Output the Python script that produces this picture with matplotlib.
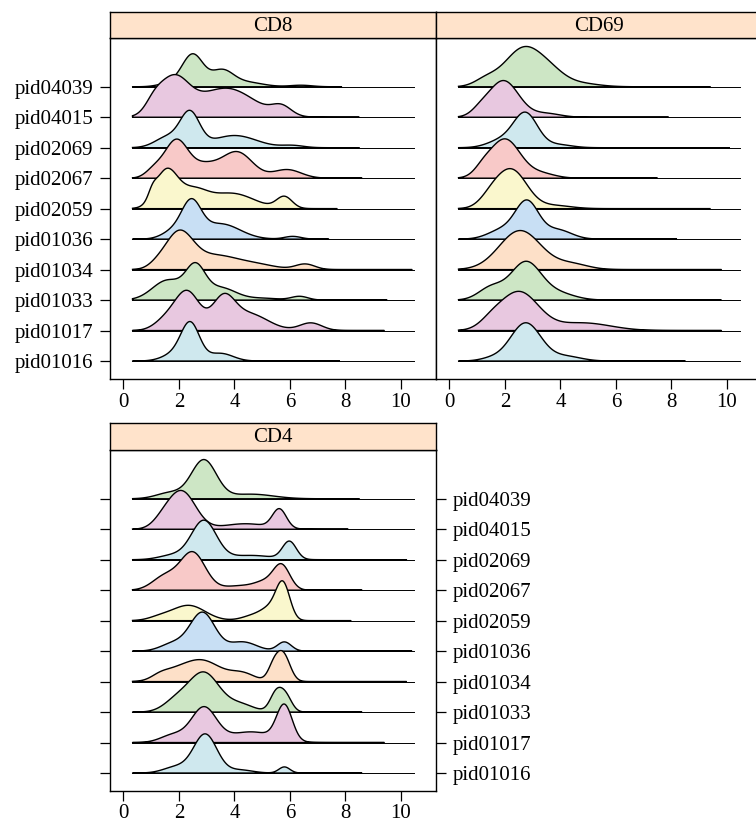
import numpy as np
import matplotlib.pyplot as plt

plt.rcParams['font.family'] = ['Liberation Serif', 'DejaVu Serif']

# rows from bottom to top
samples = ["pid01016", "pid01017", "pid01033", "pid01034", "pid01036",
           "pid02059", "pid02067", "pid02069", "pid04015", "pid04039"]
fill_colors = ["#CFE8EE", "#E8C8E0", "#CDE6C5", "#FDE0C8", "#C8DFF4",
               "#FAF7CD", "#F8C9C8"]
strip_color = "#FFE3CB"

# each curve: (centre, height in rows, width)
cd8_peaks = [
    [(2.42, 1.15, 0.33), (1.9, 0.25, 0.45), (3.5, 0.25, 0.45)],
    [(2.3, 1.27, 0.45), (3.6, 0.95, 0.4), (4.5, 0.55, 0.7), (6.75, 0.25, 0.4), (1.5, 0.3, 0.4)],
    [(2.6, 1.0, 0.35), (1.6, 0.65, 0.55), (3.5, 0.4, 0.55), (6.35, 0.12, 0.3), (5.0, 0.06, 0.6)],
    [(2.0, 1.17, 0.5), (3.3, 0.45, 0.8), (6.55, 0.18, 0.35), (4.8, 0.15, 0.7), (1.2, 0.1, 0.3)],
    [(2.45, 1.1, 0.35), (1.8, 0.25, 0.4), (3.5, 0.5, 0.7), (6.1, 0.09, 0.3)],
    [(1.55, 1.22, 0.4), (1.05, 0.25, 0.15), (2.5, 0.55, 0.5), (3.9, 0.5, 0.8), (5.8, 0.38, 0.28)],
    [(1.9, 1.22, 0.42), (1.1, 0.25, 0.3), (2.9, 0.4, 0.5), (4.1, 0.85, 0.55), (5.9, 0.28, 0.5)],
    [(2.4, 1.1, 0.35), (1.6, 0.35, 0.45), (4.0, 0.4, 0.8), (6.1, 0.07, 0.4)],
    [(1.8, 1.22, 0.55), (1.1, 0.3, 0.3), (3.7, 0.95, 1.0), (5.7, 0.3, 0.35)],
    [(2.5, 1.05, 0.38), (3.55, 0.5, 0.4), (4.4, 0.15, 0.6), (1.7, 0.12, 0.4), (6.4, 0.05, 0.4)],
]
cd8_end = [7.8, 9.4, 9.5, 10.4, 7.4, 7.7, 8.6, 8.5, 8.5, 7.86]

cd69_peaks = [
    [(2.75, 1.25, 0.55), (4.2, 0.15, 0.55), (1.5, 0.08, 0.4)],
    [(2.5, 1.26, 0.7), (1.5, 0.2, 0.4), (4.8, 0.25, 1.0)],
    [(2.75, 1.23, 0.55), (1.5, 0.4, 0.45), (3.9, 0.22, 0.6)],
    [(2.55, 1.28, 0.75), (4.4, 0.18, 0.6)],
    [(2.8, 1.2, 0.42), (1.9, 0.3, 0.5), (3.9, 0.3, 0.5)],
    [(2.25, 1.25, 0.55), (1.5, 0.3, 0.4), (3.8, 0.1, 0.6)],
    [(2.0, 1.28, 0.55), (1.2, 0.2, 0.3), (3.3, 0.15, 0.5)],
    [(2.75, 1.1, 0.43), (1.9, 0.25, 0.5), (3.9, 0.1, 0.5)],
    [(1.95, 1.2, 0.55), (1.1, 0.15, 0.3), (3.5, 0.12, 0.5)],
    [(2.7, 1.28, 0.7), (1.3, 0.2, 0.4), (3.7, 0.25, 0.5), (4.6, 0.12, 0.7)],
]
cd69_end = [8.5, 9.8, 9.8, 9.8, 8.2, 9.4, 7.5, 10.1, 7.9, 9.4]

cd4_peaks = [
    [(2.95, 1.27, 0.42), (1.9, 0.2, 0.45), (4.2, 0.1, 0.45), (5.8, 0.2, 0.2)],
    [(2.9, 1.13, 0.45), (1.8, 0.25, 0.45), (4.6, 0.35, 0.8), (5.8, 1.15, 0.28)],
    [(2.9, 1.28, 0.55), (1.9, 0.35, 0.45), (4.2, 0.25, 0.5), (5.5, 0.6, 0.22), (5.85, 0.5, 0.22)],
    [(2.8, 0.7, 0.7), (1.7, 0.2, 0.5), (1.3, 0.1, 0.3), (4.3, 0.25, 0.45), (5.4, 0.4, 0.2), (5.75, 0.9, 0.25)],
    [(2.85, 1.26, 0.45), (1.8, 0.25, 0.45), (4.3, 0.3, 0.5), (5.8, 0.3, 0.25)],
    [(2.35, 0.5, 0.6), (1.3, 0.1, 0.4), (4.8, 0.2, 0.45), (5.3, 0.3, 0.3), (5.75, 1.18, 0.25)],
    [(2.5, 1.22, 0.45), (1.5, 0.45, 0.45), (4.3, 0.15, 0.7), (5.1, 0.2, 0.35), (5.7, 0.8, 0.3)],
    [(2.9, 1.27, 0.45), (1.8, 0.15, 0.5), (4.6, 0.14, 0.8), (5.98, 0.58, 0.25)],
    [(2.1, 1.24, 0.5), (1.4, 0.2, 0.35), (4.4, 0.18, 0.8), (5.62, 0.62, 0.25)],
    [(2.9, 1.26, 0.45), (1.7, 0.2, 0.5), (4.6, 0.15, 0.8)],
]
cd4_end = [8.6, 9.4, 8.6, 10.2, 10.4, 8.2, 8.6, 10.2, 8.1, 8.5]

x_ticks = [0, 2, 4, 6, 8, 10]
x_lo, x_hi = 0.33, 10.45


def density(peaks, x):
    d = np.zeros_like(x)
    for c, h, s in peaks:
        d += h * np.exp(-0.5 * ((x - c) / s) ** 2)
    return d


def draw_panel(ax, peaks_list, ends):
    for i, (peaks, end) in enumerate(zip(peaks_list, ends)):
        y0 = i + 1
        z = 40 - 3 * i  # lower rows sit on top
        ax.plot([x_lo, x_hi], [y0, y0], color="black", lw=0.7, zorder=z)
        x = np.linspace(x_lo, end, 500)
        d = density(peaks, x)
        xs = np.r_[x, x[::-1]]
        ys = np.r_[y0 + d, np.full_like(x, y0)]
        ax.fill(xs, ys, facecolor=fill_colors[i % len(fill_colors)],
                edgecolor="black", lw=1.0, zorder=z + 1)
    ax.set_xlim(-0.48, 11.26)
    ax.set_ylim(0.41, 11.6)
    ax.set_xticks(x_ticks)
    ax.set_yticks(range(1, len(samples) + 1))
    ax.set_yticklabels(samples)
    for sp in ax.spines.values():
        sp.set_linewidth(1.0)
    ax.tick_params(direction="out", length=7, width=0.9, labelsize=15,
                   pad=5, top=False)
    ax.tick_params(axis="x", pad=3)


def add_strip(x0, y0, w, h, name):
    sax = fig.add_axes([x0, y0, w, h])
    sax.set_facecolor(strip_color)
    sax.set_xticks([])
    sax.set_yticks([])
    for sp in sax.spines.values():
        sp.set_linewidth(1.0)
    sax.text(0.5, 0.45, name, ha="center", va="center", fontsize=15,
             transform=sax.transAxes)


W, H = 756, 825
fig = plt.figure(figsize=(W / 100, H / 100), dpi=100)

pw, ph = 326 / W, 341 / H
ax1 = fig.add_axes([110 / W, (H - 379) / H, pw, ph])
ax2 = fig.add_axes([436 / W, (H - 379) / H, pw, ph])
ax3 = fig.add_axes([110 / W, (H - 791) / H, pw, ph])

draw_panel(ax1, cd8_peaks, cd8_end)
draw_panel(ax2, cd69_peaks, cd69_end)
draw_panel(ax3, cd4_peaks, cd4_end)

ax1.tick_params(left=True, labelleft=True, right=False)
ax2.tick_params(left=False, labelleft=False, right=False)
ax3.tick_params(left=True, labelleft=False, right=True, labelright=True)
ax3.tick_params(axis="x", pad=2)

add_strip(110 / W, (H - 38) / H, pw, 26 / H, "CD8")
add_strip(436 / W, (H - 38) / H, pw, 26 / H, "CD69")
add_strip(110 / W, (H - 450) / H, pw, 27 / H, "CD4")

fig.savefig("out.png", dpi=100)
